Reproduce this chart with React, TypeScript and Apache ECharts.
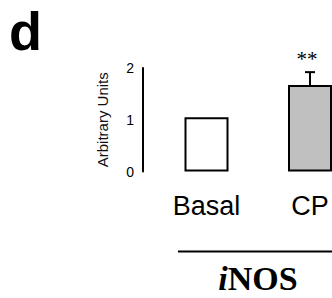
import React, { useEffect, useRef } from "react";
import * as echarts from "echarts";

const categories = ["Basal", "CP"];
const values = [1.05, 1.67];
const errors = [0, 0.25];
const significance = ["", "**"];
const barColors = ["#ffffff", "#c0c0c0"];
const yMin = 0;
const yMax = 2;
const yInterval = 1;

export default function App() {
  const ref = useRef<HTMLDivElement>(null);
  useEffect(() => {
    document.body.style.margin = "0";
    const chart = echarts.init(ref.current!, null, { renderer: "svg" });
    const sans = "'Liberation Sans', Arial, sans-serif";
    const serif = "'Liberation Serif', 'Times New Roman', serif";
    chart.setOption({
      animation: false,
      grid: { left: 206.5, right: 22, top: 68, bottom: 126.5, containLabel: false },
      xAxis: {
        type: "category",
        data: categories,
        boundaryGap: false,
        axisLine: { show: false },
        axisTick: { show: false },
        splitLine: { show: false },
        axisLabel: { color: "#000", fontFamily: sans, fontSize: 27, margin: 21 },
      },
      yAxis: {
        type: "value",
        min: yMin,
        max: yMax,
        interval: yInterval,
        offset: 63.5,
        axisLine: { show: true, lineStyle: { color: "#000", width: 2 } },
        axisTick: { show: false },
        splitLine: { show: false },
        axisLabel: { color: "#000", fontFamily: sans, fontSize: 14, margin: 9 },
        name: "Arbitrary Units",
        nameLocation: "middle",
        nameGap: 33,
        nameRotate: 90,
        nameTextStyle: { color: "#111", fontFamily: sans, fontSize: 15 },
      },
      series: [
        {
          type: "bar",
          clip: false,
          barWidth: 44,
          data: values.map((v, i) => ({
            value: v,
            itemStyle: { color: barColors[i], borderColor: "#000", borderWidth: 2 },
          })),
        },
        {
          type: "custom",
          clip: false,
          encode: { x: 0, y: 1 },
          data: values.map((v, i) => [i, v, errors[i], significance[i]]),
          renderItem: (params: any, api: any) => {
            const i = api.value(0);
            const v = api.value(1);
            const e = api.value(2);
            const sig = significance[i];
            const base = api.coord([i, v]);
            const top = api.coord([i, v + e]);
            const children: any[] = [];
            if (e > 0) {
              children.push({
                type: "line",
                shape: { x1: base[0], y1: base[1], x2: top[0], y2: top[1] },
                style: { stroke: "#000", lineWidth: 2 },
              });
              children.push({
                type: "line",
                shape: { x1: top[0] - 5, y1: top[1], x2: top[0] + 5, y2: top[1] },
                style: { stroke: "#000", lineWidth: 2 },
              });
            }
            if (sig) {
              children.push({
                type: "text",
                x: top[0] - 3,
                y: top[1] - 3,
                style: {
                  text: sig,
                  fill: "#000",
                  font: `21px ${serif}`,
                  textAlign: "center",
                  textVerticalAlign: "bottom",
                },
              });
            }
            return { type: "group", children };
          },
        },
      ],
      graphic: [
        {
          type: "text",
          left: 9,
          top: 4,
          style: { text: "d", fill: "#000", font: `bold 54px ${sans}` },
        },
        {
          type: "line",
          shape: { x1: 178, y1: 251.5, x2: 332, y2: 251.5 },
          style: { stroke: "#000", lineWidth: 2 },
        },
        {
          type: "text",
          x: 258,
          y: 278,
          style: {
            text: "{i|i}{n|NOS}",
            textAlign: "center",
            textVerticalAlign: "middle",
            rich: {
              i: { font: `italic bold 34px ${serif}`, fill: "#000" },
              n: { font: `bold 34px ${serif}`, fill: "#000" },
            },
          },
        },
      ],
    });
    return () => chart.dispose();
  }, []);
  return (
    <div
      ref={ref}
      style={{ position: "absolute", left: 0, top: 0, width: 332, height: 298, background: "#fff" }}
    />
  );
}
